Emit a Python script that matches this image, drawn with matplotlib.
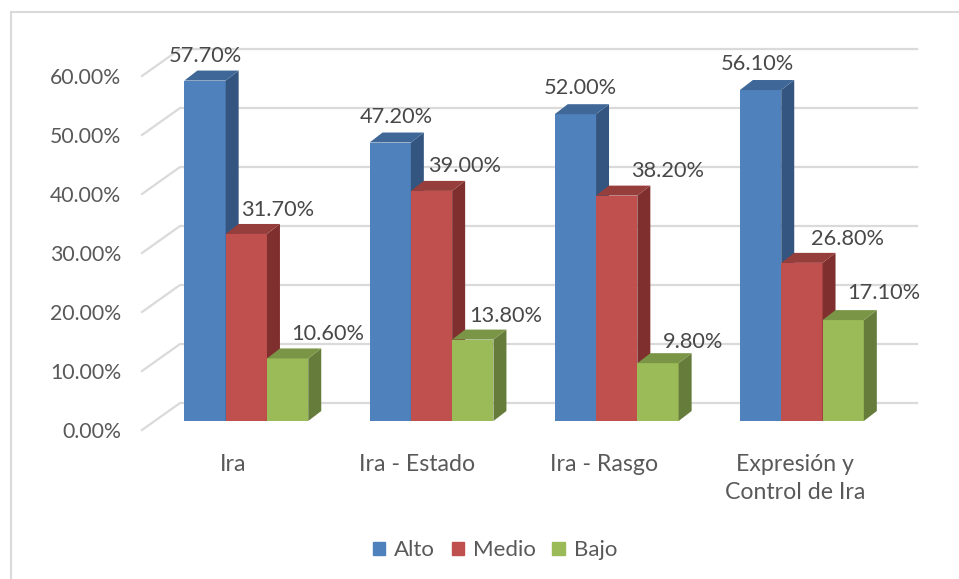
import matplotlib
matplotlib.use("Agg")
import matplotlib.pyplot as plt
from matplotlib.lines import Line2D
from matplotlib.patches import Patch, Polygon

plt.rcParams["font.family"] = ["Lato", "DejaVu Sans"]

categories = ["Ira", "Ira - Estado", "Ira - Rasgo", "Expresión y\nControl de Ira"]
alto = [57.7, 47.2, 52.0, 56.1]
medio = [31.7, 39.0, 38.2, 26.8]
bajo = [10.6, 13.8, 9.8, 17.1]
ticks = [0, 10, 20, 30, 40, 50, 60]

# label offsets from the top of each bar, in pixels (placed by hand in the original)
alto_off = [(0, 25), (6, 26), (5, 26), (-3, 26)]
medio_off = [(31, 24), (33, 25), (51, 25), (46, 24)]
bajo_off = [(40, 24), (33, 24), (35, 21), (41, 27)]
# small shifts of the category labels, in pixels
cat_off = [0, -2, 0, 6]

TEXT = "#595959"
GRID = "#DADADA"
W, H = 959, 579

# pixel scale of the front plane
UNIT_X = 185.2
UNIT_Y = 5.9
BAR_W = 41.3 / UNIT_X
# shift from front plane to the bar front, and the depth of the bar itself
SHIFT_X, SHIFT_Y = 12.7 / UNIT_X, 9 / UNIT_Y
DEPTH_X, DEPTH_Y = 13 / UNIT_X, 10 / UNIT_Y
# full floor depth, front plane to back wall
BACK_X, BACK_Y = 38 / UNIT_X, 27 / UNIT_Y

fig = plt.figure(figsize=(W / 100, H / 100), dpi=100)
ax = fig.add_axes([142 / W, (H - 430) / H, 737 / W, 354 / H])
ax.set_xlim(-0.4946, 3.485)
ax.set_ylim(0, 60)
ax.patch.set_alpha(0)
for s in ax.spines.values():
    s.set_visible(False)

# frame of the chart area, only top and left show
fig.add_artist(Line2D([11 / W, 1], [1 - 12 / H, 1 - 12 / H], color=GRID, lw=1.5))
fig.add_artist(Line2D([11 / W, 11 / W], [1 - 12 / H, 0], color=GRID, lw=1.5))

x0, x1 = ax.get_xlim()
for t in ticks:
    ax.plot([x0, x0 + BACK_X, x1 + BACK_X], [t, t + BACK_Y, t + BACK_Y],
            color=GRID, lw=1.6, clip_on=False, zorder=1)


def draw_series(values, offset, front, side, top, offs):
    for i, v in enumerate(values):
        left = i + SHIFT_X + (offset - 1.5) * BAR_W
        right = left + BAR_W
        low = SHIFT_Y
        high = SHIFT_Y + v
        ax.bar(left, v, BAR_W, bottom=low, align="edge", color=front, clip_on=False, zorder=3)
        ax.add_patch(Polygon([(right, low), (right + DEPTH_X, low + DEPTH_Y),
                              (right + DEPTH_X, high + DEPTH_Y), (right, high)],
                             color=side, lw=0, clip_on=False, zorder=3))
        ax.add_patch(Polygon([(left, high), (left + DEPTH_X, high + DEPTH_Y),
                              (right + DEPTH_X, high + DEPTH_Y), (right, high)],
                             color=top, lw=0, clip_on=False, zorder=3))
        ax.annotate("%.2f%%" % v, ((left + right) / 2, high),
                    xytext=(offs[i][0] * 0.72, offs[i][1] * 0.72), textcoords="offset points",
                    ha="center", va="center", fontsize=15.7, color="#484848", zorder=5)


draw_series(alto, 0, "#4F81BD", "#34557F", "#3F6898", alto_off)
draw_series(medio, 1, "#C0504D", "#7F2F2D", "#963E3B", medio_off)
draw_series(bajo, 2, "#9BBB59", "#667C3A", "#7A9546", bajo_off)

ax.set_yticks(ticks)
ax.set_yticklabels(["%.2f%%" % t for t in ticks], fontsize=15.3, color=TEXT)
ax.tick_params(axis="y", length=0, pad=15)
ax.set_xticks([i + d / UNIT_X for i, d in enumerate(cat_off)])
ax.set_xticklabels(categories, fontsize=16.7, color=TEXT, linespacing=1.4)
ax.tick_params(axis="x", length=0, pad=17.5)

handles = [Patch(color="#4F81BD", label="Alto"),
           Patch(color="#C0504D", label="Medio"),
           Patch(color="#9BBB59", label="Bajo")]
fig.legend(handles=handles, ncol=3, loc="center", bbox_to_anchor=(495 / W, 1 - 550.5 / H),
           frameon=False, fontsize=16, labelcolor=TEXT, handlelength=0.55, handleheight=0.55,
           handletextpad=0.4, columnspacing=0.75)

fig.savefig("out.png", dpi=100)
